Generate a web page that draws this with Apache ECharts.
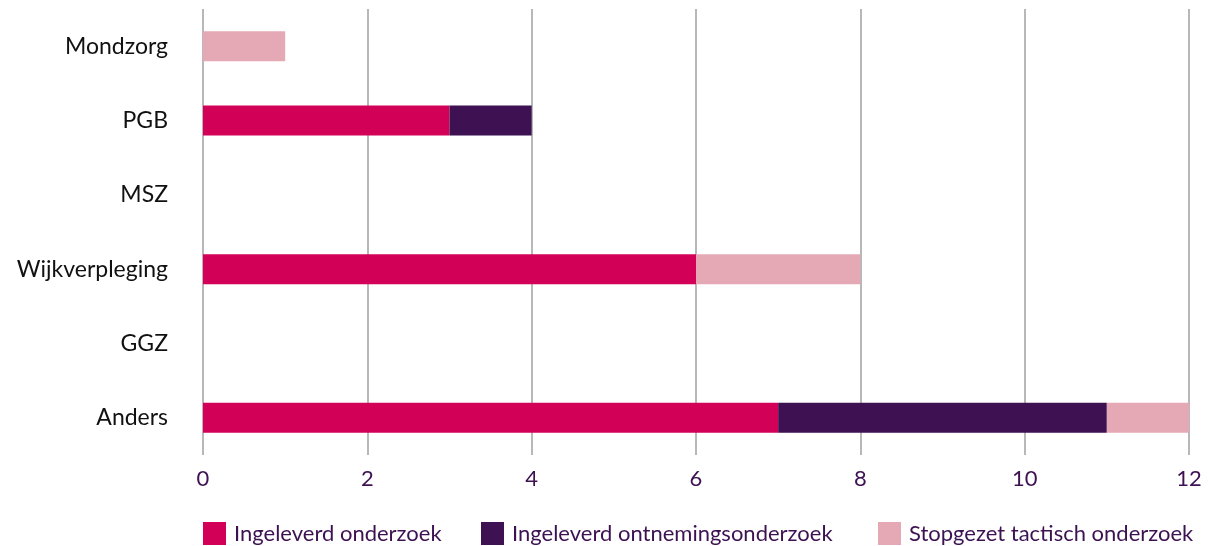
<!DOCTYPE html>
<html><head><meta charset="utf-8">
<script src="https://cdn.jsdelivr.net/npm/echarts@6/dist/echarts.min.js"></script>
<style>html,body{margin:0;padding:0;background:#fff}#c{width:1218px;height:546px}</style>
</head><body><div id="c"></div>
<script>
const categories = ["Mondzorg","PGB","MSZ","Wijkverpleging","GGZ","Anders"];
const ingeleverd = [0,3,0,6,0,7];
const ontneming = [0,1,0,0,0,4];
const stopgezet = [1,0,0,2,0,1];
const seriesNames = ["Ingeleverd onderzoek","Ingeleverd ontnemingsonderzoek","Stopgezet tactisch onderzoek"];
const colors = ["#D30058","#3D1152","#E5A9B6"];
const font = "Lato, 'Open Sans', sans-serif";
const chart = echarts.init(document.getElementById('c'));
const mk = (name, data, i) => ({
  name, type:'bar', stack:'a', data: data.map(v => v === 0 ? null : v), barWidth:30,
  itemStyle:{color:colors[i]}, emphasis:{disabled:true}
});
const legendLefts = [203, 481, 878];
chart.setOption({
  animation:false,
  grid:{left:203,right:29,top:9,bottom:91,containLabel:false},
  xAxis:{type:'value',min:0,max:12,interval:2,
    axisLine:{show:false},axisTick:{show:false},
    splitLine:{lineStyle:{color:'#b8b8b8',width:2}},
    axisLabel:{color:'#3D1152',fontSize:22,fontFamily:font,margin:13}},
  yAxis:{type:'category',data:categories,inverse:true,
    axisLine:{show:false},axisTick:{show:false},
    axisLabel:{color:'#111',fontSize:23,fontFamily:font,margin:35,padding:[3,0,0,0]}},
  legend:seriesNames.map((n,i)=>({bottom:1,left:legendLefts[i],padding:0,itemWidth:23,itemHeight:23,icon:'rect',
    textStyle:{color:'#3D1152',fontSize:22,fontFamily:font,padding:[0,0,0,3]},
    data:[n]})),
  series:[mk(seriesNames[0],ingeleverd,0),mk(seriesNames[1],ontneming,1),mk(seriesNames[2],stopgezet,2)]
});
</script></body></html>
